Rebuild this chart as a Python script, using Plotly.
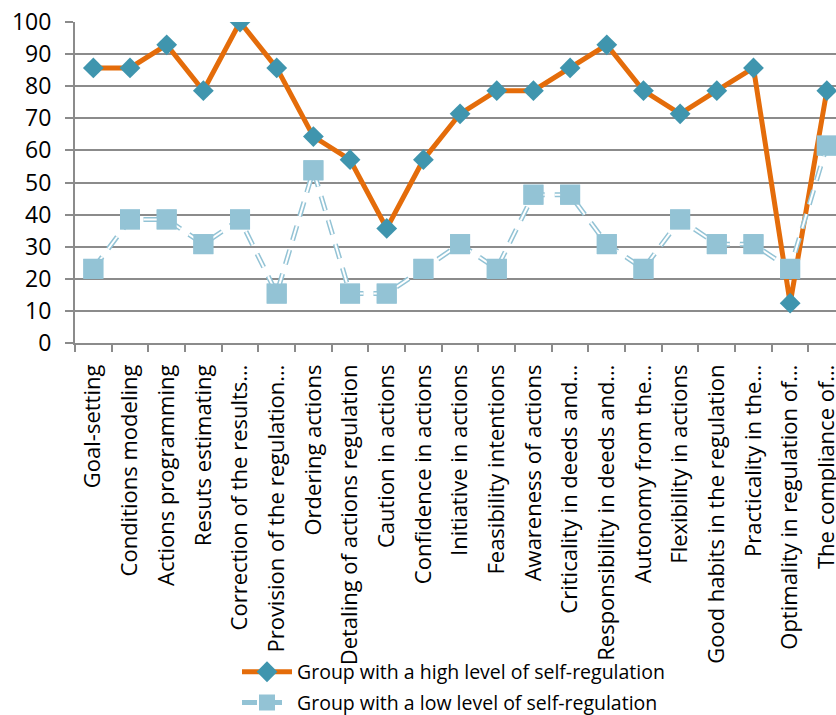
import plotly.graph_objects as go

categories = [
    "Goal-setting",
    "Conditions modeling",
    "Actions programming",
    "Resuts estimating",
    "Correction of the results…",
    "Provision of the regulation…",
    "Ordering actions",
    "Detaling of actions regulation",
    "Caution in actions",
    "Confidence in actions",
    "Initiative in actions",
    "Feasibility intentions",
    "Awareness of actions",
    "Criticality in deeds and…",
    "Responsibility in deeds and…",
    "Autonomy from the…",
    "Flexibility in actions",
    "Good habits in the regulation",
    "Practicality in the…",
    "Optimality in regulation of…",
    "The compliance of…",
]

high_group = [85.7, 85.7, 92.9, 78.6, 100.0, 85.7, 64.3, 57.1, 35.7, 57.1, 71.4,
              78.6, 78.6, 85.7, 92.9, 78.6, 71.4, 78.6, 85.7, 12.4, 78.6]
low_group = [23.1, 38.5, 38.5, 30.8, 38.5, 15.4, 53.8, 15.4, 15.4, 23.1, 30.8,
             23.1, 46.2, 46.2, 30.8, 23.1, 38.5, 30.8, 30.8, 23.1, 61.5]

series_names = ["Group with a high level of self-regulation",
                "Group with a low level of self-regulation"]
y_ticks = list(range(0, 101, 10))

ORANGE = "#E46C0A"
TEAL = "#3F95AE"
LIGHT = "#93C3D5"
GRID = "#8B8B8B"
FONT = "'Open Sans', 'Noto Sans', sans-serif"
DASH = "15px,10px"

fig = go.Figure()

fig.add_trace(go.Scatter(
    x=categories, y=high_group, name=series_names[0], mode="lines+markers",
    line=dict(color=ORANGE, width=5),
    marker=dict(symbol="diamond", size=16, color=TEAL, line=dict(width=0)),
    legend="legend",
))

# hollow dashed line: wide light-blue dash with a thin white dash inside
fig.add_trace(go.Scatter(
    x=categories, y=low_group, name=series_names[1], mode="lines+markers",
    line=dict(color=LIGHT, width=5, dash=DASH),
    marker=dict(symbol="square", size=20, color=LIGHT, line=dict(width=0)),
    legend="legend2",
))
fig.add_trace(go.Scatter(
    x=categories, y=low_group, mode="lines", showlegend=False, hoverinfo="skip",
    line=dict(color="white", width=2, dash=DASH),
))
fig.add_trace(go.Scatter(
    x=categories, y=low_group, mode="markers", showlegend=False, hoverinfo="skip",
    marker=dict(symbol="square", size=20, color=LIGHT, line=dict(width=0)),
))

legend_style = dict(
    xref="container", yref="container", x=0.2835,
    xanchor="left", yanchor="middle",
    bgcolor="rgba(0,0,0,0)", font=dict(size=19.5, family=FONT, color="#000000"),
    itemwidth=50,
)

fig.update_layout(
    width=836, height=715,
    margin=dict(l=75, r=0, t=22, b=372, autoexpand=False),
    paper_bgcolor="white", plot_bgcolor="white",
    font=dict(family=FONT, size=22, color="#000000"),
    showlegend=True,
    legend=dict(legend_style, y=0.060),
    legend2=dict(legend_style, y=0.017),
)

fig.update_xaxes(
    type="category", range=[-0.5, 20.25],
    tickmode="linear", tick0=0, dtick=1,
    tickangle=-90, tickson="boundaries",
    ticks="outside", ticklen=7, tickcolor=GRID, tickwidth=1.5,
    showline=True, linecolor=GRID, linewidth=1.5,
    showgrid=False, tickfont=dict(size=22, family=FONT),
    ticklabelstandoff=11, automargin=False,
)
fig.update_yaxes(
    range=[0, 100], tickvals=y_ticks,
    ticks="outside", ticklen=8, tickcolor=GRID, tickwidth=1.5,
    showline=True, linecolor=GRID, linewidth=2,
    showgrid=True, gridcolor=GRID, gridwidth=1.5,
    zeroline=False, tickfont=dict(size=23, family=FONT),
    ticklabelstandoff=9, automargin=False,
)

fig.write_html("out.html")
